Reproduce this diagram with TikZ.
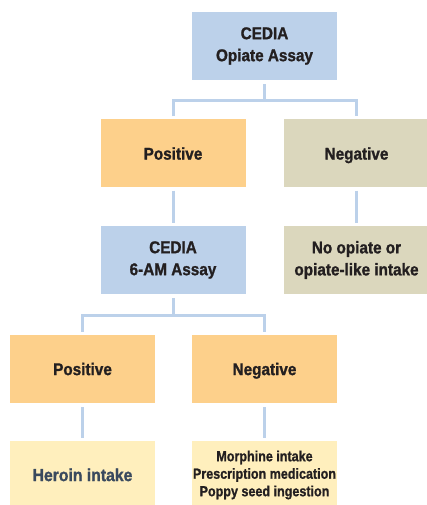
\documentclass[tikz,border=0pt]{standalone}
\usepackage{fontspec}
\setmainfont{Liberation Sans}[FakeStretch=0.9, BoldFeatures={FakeBold=1.2}]
\newfontfamily\smallfam{Liberation Sans}[FakeStretch=0.86, BoldFeatures={FakeBold=1.0}]
\definecolor{boxblue}{HTML}{BCD1EA}
\definecolor{boxorange}{HTML}{FDD08B}
\definecolor{boxkhaki}{HTML}{DBD7BD}
\definecolor{boxyellow}{HTML}{FFEFBD}
\definecolor{txt}{HTML}{231F20}
\definecolor{herotxt}{HTML}{3A4A5E}
\tikzset{
  flowbox/.style={minimum width=145pt, minimum height=68pt, inner sep=0pt, align=center,
    text=txt, font=\bfseries\fontsize{17}{22}\selectfont},
  oneline/.style={text height=12.2pt, text depth=0pt},
  bluebox/.style={flowbox, fill=boxblue},
  orangebox/.style={flowbox, fill=boxorange},
  khakibox/.style={flowbox, fill=boxkhaki},
  yellowbox/.style={flowbox, fill=boxyellow},
  conn/.style={draw=boxblue, line width=3pt},
}
\begin{document}
\begin{tikzpicture}[x=1pt,y=1pt]
\useasboundingbox (0,0) rectangle (427,505);
\begin{scope}
\clip (0,0) rectangle (427,505);
\node[bluebox] (top) at (264.5,459) {CEDIA\\Opiate Assay};
\node[orangebox, oneline] (pos1) at (173,351.5) {Positive};
\node[khakibox, oneline] (neg1) at (356.5,351.5) {Negative};
\node[bluebox] (amp) at (173,245) {CEDIA\\6-AM Assay};
\node[khakibox] (noop) at (356.5,245) {No opiate or\\opiate-like intake};
\node[orangebox, oneline] (pos2) at (82.5,136) {Positive};
\node[orangebox, oneline] (neg2) at (264.5,136) {Negative};
\node[yellowbox, oneline, text=herotxt, font=\bfseries\fontsize{17.5}{22}\selectfont] (her) at (82.5,30) {Heroin intake};
\node[yellowbox, font=\smallfam\bfseries\fontsize{14.6}{17.5}\selectfont] (mor) at (264.5,30) {Morphine intake\\Prescription medication\\Poppy seed ingestion};
\end{scope}
% first split
\draw[conn] ([yshift=-4pt]top.south) -- ([yshift=-20pt]top.south);
\draw[conn] ([yshift=3pt]pos1.north) |- ([yshift=-20pt]top.south) -| ([yshift=3pt]neg1.north);
\draw[conn, shorten <=3pt, shorten >=3pt] (pos1.south) -- (amp.north);
\draw[conn, shorten <=3pt, shorten >=3pt] (neg1.south) -- (noop.north);
% second split
\draw[conn] ([yshift=-4pt]amp.south) -- ([yshift=-21pt]amp.south);
\draw[conn] ([yshift=3pt]pos2.north) |- ([yshift=-21pt]amp.south) -| ([yshift=3pt]neg2.north);
\draw[conn, shorten <=4pt, shorten >=3pt] (pos2.south) -- (her.north);
\draw[conn, shorten <=4pt, shorten >=3pt] (neg2.south) -- (mor.north);
\end{tikzpicture}
\end{document}
